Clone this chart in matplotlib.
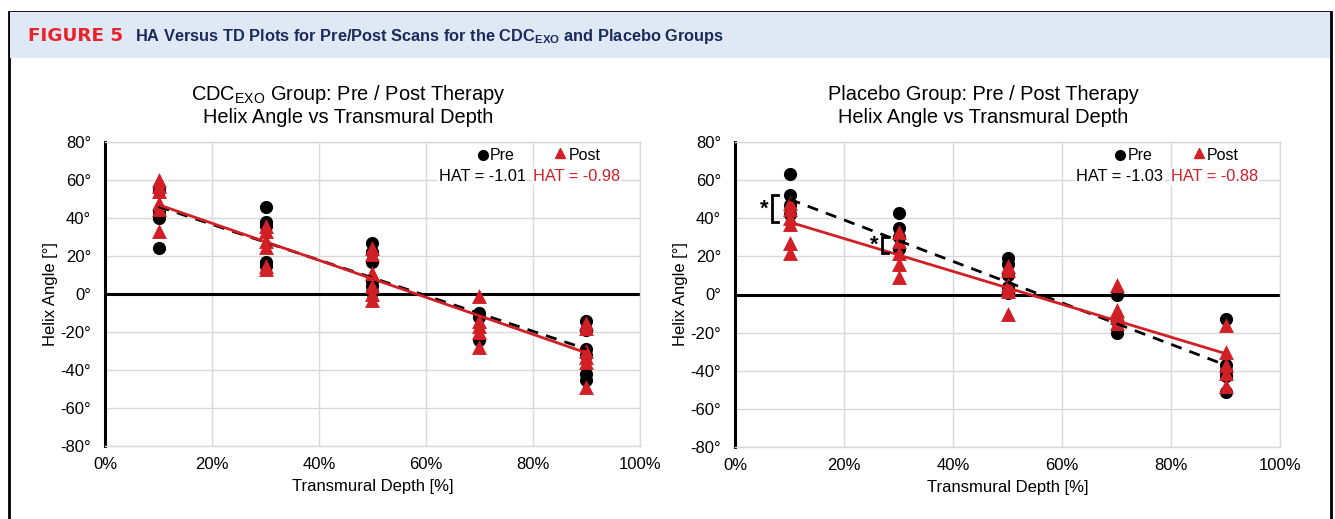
import numpy as np
import matplotlib
matplotlib.use("Agg")
import matplotlib.pyplot as plt
from matplotlib.patches import Rectangle

plt.rcParams['font.family'] = ['Liberation Sans', 'DejaVu Sans']
plt.rcParams['mathtext.fontset'] = 'custom'
plt.rcParams['mathtext.rm'] = 'Liberation Sans'
plt.rcParams['mathtext.bf'] = 'Liberation Sans:bold'

RED = "#d11f26"
GRID = "#d9d9d9"
NAVY = "#1b2a5c"

# ---- data ----
depth_levels = [10, 30, 50, 70, 90]

# CDC_EXO group
cdc_pre = {
    10: [55, 43, 40, 24],
    30: [46, 38, 36, 17, 15],
    50: [27, 22, 17, 7, 4, 1],
    70: [-10, -12, -24],
    90: [-14, -19, -29, -32, -42, -45],
}
cdc_post = {
    10: [60, 57, 54, 48, 45, 33],
    30: [36, 33, 28, 25, 15, 13],
    50: [24, 21, 11, 4, 0, -3],
    70: [-1, -14, -17, -20, -28],
    90: [-15, -18, -30, -33, -36, -49],
}
cdc_pre_fit = [46, -29]     # HA at 10% and 90%
cdc_post_fit = [47, -31]
cdc_hat = ["HAT = -1.01", "HAT = -0.98"]

# Placebo group
pla_pre = {
    10: [63, 52, 47, 42],
    30: [43, 35, 30, 24],
    50: [19, 16, 10, 4, 1],
    70: [0, -14, -20],
    90: [-13, -37, -40, -43, -51],
}
pla_post = {
    10: [48, 45, 40, 37, 27, 22],
    30: [33, 28, 22, 16, 9],
    50: [15, 13, 5, 3, 2, -10],
    70: [5, -8, -10, -12, -15],
    90: [-16, -30, -37, -41, -48],
}
pla_pre_fit = [50, -37]
pla_post_fit = [38, -31]
pla_hat = ["HAT = -1.03", "HAT = -0.88"]

# significance brackets: (x, y_low, y_high)
pla_brackets = [(6.8, 38, 52), (27, 22, 30)]

x_ticks = [0, 20, 40, 60, 80, 100]
y_ticks = [-80, -60, -40, -20, 0, 20, 40, 60, 80]


def flatten(d):
    xs, ys = [], []
    for k, vals in d.items():
        xs += [k] * len(vals)
        ys += vals
    return xs, ys


def draw_panel(ax, title_lines, pre, post, pre_fit, post_fit, hat):
    ax.set_xlim(0, 100)
    ax.set_ylim(-80, 80)
    ax.set_xticks(x_ticks)
    ax.set_xticklabels([f"{t}%" for t in x_ticks])
    ax.set_yticks(y_ticks)
    ax.set_yticklabels([f"{t}°" for t in y_ticks])
    ax.tick_params(length=0, labelsize=12)
    ax.tick_params(axis="x", pad=8)
    ax.tick_params(axis="y", pad=10)
    ax.grid(True, color=GRID, linewidth=1)
    ax.set_axisbelow(True)
    for s in ["top", "right", "bottom"]:
        ax.spines[s].set_color(GRID)
        ax.spines[s].set_linewidth(1)
    ax.spines["left"].set_color("black")
    ax.spines["left"].set_linewidth(2.2)
    ax.axhline(0, color="black", linewidth=2.2, zorder=2)

    px, py = flatten(pre)
    qx, qy = flatten(post)
    ax.scatter(px, py, s=90, color="black", marker="o", zorder=3, linewidths=0)
    ax.scatter(qx, qy, s=115, color=RED, marker="^", zorder=4, linewidths=0)

    fx = [depth_levels[0], depth_levels[-1]]
    ax.plot(fx, pre_fit, color="black", linestyle=(0, (4, 3)), linewidth=2, zorder=5)
    ax.plot(fx, post_fit, color=RED, linewidth=2, zorder=6)

    # chart title is centred over the whole chart area, a bit left of the plot centre
    ax.text(0.455, 1.138, title_lines[0], transform=ax.transAxes, fontsize=14.4,
            ha="center", va="baseline")
    ax.text(0.455, 1.062, title_lines[1], transform=ax.transAxes, fontsize=14.4,
            ha="center", va="baseline")
    ax.set_xlabel("Transmural Depth [%]", fontsize=12, labelpad=5)
    ax.set_ylabel("Helix Angle [°]", fontsize=12, labelpad=2)

    # legend-like labels
    ax.plot([70.6], [73], marker="o", color="black", markersize=7, zorder=7)
    ax.text(72, 73, "Pre", fontsize=11.5, va="center", ha="left", zorder=7)
    ax.plot([85.1], [74], marker="^", color=RED, markersize=7, zorder=7)
    ax.text(86.6, 73, "Post", fontsize=11.5, va="center", ha="left", zorder=7)
    ax.text(78.6, 62, hat[0], fontsize=11.8, ha="right", va="center", color="black",
            zorder=7, bbox=dict(facecolor="white", edgecolor="none", pad=1))
    ax.text(80.0, 62, hat[1], fontsize=11.8, ha="left", va="center", color=RED,
            zorder=7, bbox=dict(facecolor="white", edgecolor="none", pad=1))


fig = plt.figure(figsize=(13.35, 5.19), dpi=100)

# frame and header band
fig.patches.append(Rectangle((9 / 1335, -0.05), (1331 - 9) / 1335, 1.05 - 12 / 519,
                             transform=fig.transFigure, facecolor="none",
                             edgecolor="black", linewidth=2, zorder=-2))
fig.patches.append(Rectangle((10 / 1335, 1 - 58 / 519), (1330 - 10) / 1335, 46 / 519,
                             transform=fig.transFigure, facecolor="#dfe9f5",
                             edgecolor="none", zorder=-1))
fig.text(28 / 1335, 1 - 36 / 519, "FIGURE 5", color="#e8242b", fontsize=13.2,
         fontweight="bold", family="DejaVu Sans", va="center", ha="left")
fig.text(135 / 1335, 1 - 36 / 519,
         r"HA Versus TD Plots for Pre/Post Scans for the CDC$_{\mathbf{EXO}}$ and Placebo Groups",
         color=NAVY, fontsize=11.75, fontweight="bold",
         va="center", ha="left")

ax1 = fig.add_axes([105 / 1335, 1 - 446 / 519, 535 / 1335, 304 / 519])
ax2 = fig.add_axes([735 / 1335, 1 - 447 / 519, 545 / 1335, 305 / 519])

draw_panel(ax1, ["CDC$_{\\mathrm{EXO}}$ Group: Pre / Post Therapy",
                 "Helix Angle vs Transmural Depth"],
           cdc_pre, cdc_post, cdc_pre_fit, cdc_post_fit, cdc_hat)
draw_panel(ax2, ["Placebo Group: Pre / Post Therapy",
                 "Helix Angle vs Transmural Depth"],
           pla_pre, pla_post, pla_pre_fit, pla_post_fit, pla_hat)

for bx, ylo, yhi in pla_brackets:
    w = 1.0
    ax2.plot([bx + w, bx, bx, bx + w], [yhi, yhi, ylo, ylo], color="black",
             linewidth=2, zorder=7, solid_joinstyle="miter")
    ax2.text(bx - 0.6, (ylo + yhi) / 2, "*", fontsize=16, fontweight="bold",
             ha="right", va="center", zorder=7)

fig.savefig("out.png", dpi=100)
